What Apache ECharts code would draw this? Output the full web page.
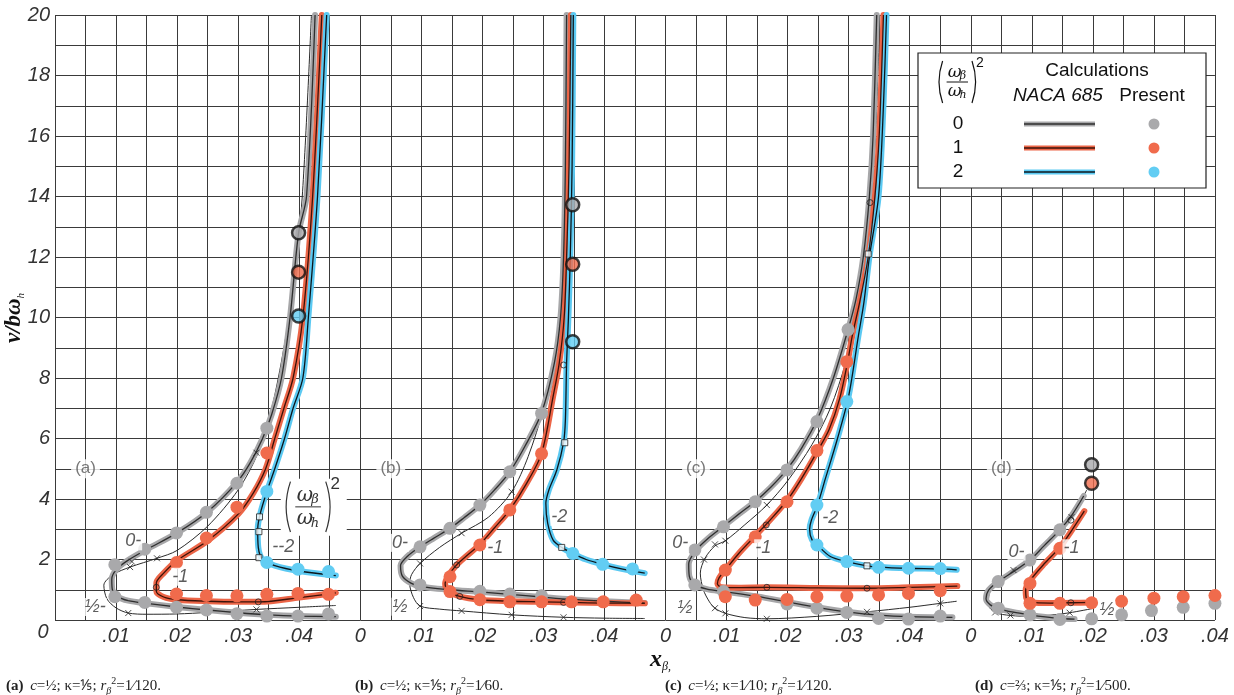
<!DOCTYPE html>
<html>
<head>
<meta charset="utf-8">
<script src="https://cdn.jsdelivr.net/npm/echarts@6.0.0/dist/echarts.min.js"></script>
<style>
html,body{margin:0;padding:0;background:#fff;}
#chart{width:1234px;height:695px;}
</style>
</head>
<body>
<div id="chart"></div>
<script>
// ================= DATA =================
const panelNames = ['(a)', '(b)', '(c)', '(d)'];
const panelXMax = [0.05, 0.05, 0.05, 0.04];
const xTickLabels = ['0', '.01', '.02', '.03', '.04'];
const yTickLabels = ['2', '4', '6', '8', '10', '12', '14', '16', '18', '20'];
const legendRatios = ['0', '1', '2'];
const captionParams = [
  ['(a)', '½', '⅕', '1⁄120'],
  ['(b)', '½', '⅕', '1⁄60'],
  ['(c)', '½', '1⁄10', '1⁄120'],
  ['(d)', '⅔', '⅕', '1⁄500']
];

// ---- panel (a) ----
const a_naca0 = [[0.0426,20],[0.0412,14],[0.0399,12.8],[0.0385,10],[0.0371,8],[0.0355,6.8],[0.0340,6.0],[0.0320,5.2],[0.0298,4.55],[0.0250,3.58],[0.0200,2.88],[0.0150,2.33],[0.0120,1.98],[0.0101,1.68],[0.0093,1.35],[0.0094,1.0],[0.0102,0.78],[0.0120,0.64],[0.0150,0.55],[0.0200,0.43],[0.0250,0.33],[0.0300,0.24],[0.0350,0.17],[0.0400,0.13],[0.0460,0.11]];
const a_naca1 = [[0.0437,20],[0.0422,14],[0.0406,10],[0.0390,8],[0.0375,7],[0.0360,6.0],[0.0345,5.0],[0.0325,4.2],[0.0300,3.5],[0.0250,2.62],[0.0200,1.97],[0.0178,1.55],[0.0166,1.22],[0.0166,0.95],[0.0178,0.76],[0.0200,0.67],[0.0250,0.62],[0.0300,0.6],[0.0335,0.6],[0.0400,0.74],[0.0460,0.9]];
const a_naca2 = [[0.0445,20],[0.0430,14],[0.0415,10],[0.0406,8],[0.0390,7],[0.0376,6],[0.0360,5],[0.0347,4.25],[0.0336,3.5],[0.0332,3.0],[0.0333,2.4],[0.0340,2.0],[0.0360,1.8],[0.0400,1.62],[0.0460,1.47]];
const a_half = [[0.0420,20],[0.0405,14],[0.0390,11],[0.0375,9],[0.0355,7],[0.0332,5.5],[0.0300,4.3],[0.0250,3.1],[0.0200,2.3],[0.0167,2.04],[0.0123,1.75],[0.0095,1.5],[0.0080,1.15],[0.0085,0.7],[0.0100,0.4],[0.0120,0.23],[0.0150,0.19],[0.0200,0.2],[0.0250,0.25],[0.0330,0.35],[0.0400,0.42],[0.0460,0.48]];
const a_pres0 = [[0.0347,6.34],[0.0298,4.52],[0.0248,3.56],[0.0199,2.88],[0.0147,2.34],[0.0098,1.83],[0.0098,0.77],[0.0147,0.58],[0.0199,0.42],[0.0248,0.33],[0.0298,0.21],[0.0347,0.13],[0.0398,0.13],[0.0448,0.2]];
const a_pres1 = [[0.0347,5.52],[0.0298,3.73],[0.0248,2.71],[0.0199,1.9],[0.0199,0.86],[0.0248,0.81],[0.0298,0.8],[0.0347,0.85],[0.0398,0.88],[0.0448,0.85]];
const a_pres2 = [[0.0347,4.25],[0.0347,1.9],[0.0398,1.68],[0.0448,1.6]];
const a_flutter = [[0.0399,12.8],[0.0399,11.5],[0.0399,10.05]];
const a_cross = [[0.0330,5.53],[0.0167,2.04],[0.0123,1.75],[0.0126,1.93],[0.0120,0.23],[0.0330,0.35]];
const a_circ = [[0.0166,1.08],[0.0333,0.6]];
const a_sq = [[0.0335,3.41],[0.0334,2.92],[0.0334,2.06]];
const a_tags = [['0-',0.0128,2.6],['-1',0.0205,1.43],['½-',0.0066,0.43],['--2',0.0374,2.42]];

// ---- panel (b) ----
const b_naca0 = [[0.0338,20],[0.0336,15],[0.0333,12],[0.0328,10],[0.0318,8.5],[0.0297,6.85],[0.0270,5.75],[0.0245,4.9],[0.0220,4.3],[0.0196,3.8],[0.0170,3.38],[0.0147,3.03],[0.0120,2.7],[0.0098,2.42],[0.0077,2.1],[0.0066,1.8],[0.0069,1.45],[0.0083,1.22],[0.0100,1.1],[0.0147,1.0],[0.0196,0.93],[0.0245,0.85],[0.0297,0.76],[0.0346,0.68],[0.0400,0.62],[0.0466,0.56]];
const b_naca1 = [[0.0345,20],[0.0342,15],[0.0338,12],[0.0334,10],[0.0326,8.5],[0.0316,7.4],[0.0297,5.5],[0.0272,4.5],[0.0245,3.64],[0.0220,3.05],[0.0196,2.5],[0.0172,2.08],[0.0156,1.78],[0.0144,1.45],[0.0139,1.2],[0.0145,0.95],[0.0163,0.78],[0.0196,0.67],[0.0245,0.62],[0.0297,0.6],[0.0346,0.58],[0.0400,0.56],[0.0466,0.55]];
const b_naca2 = [[0.0349,20],[0.0347,15],[0.0344,12],[0.0341,10],[0.0338,8.5],[0.0336,6.6],[0.0333,5.86],[0.0322,4.96],[0.0309,4.3],[0.0304,3.86],[0.0307,3.2],[0.0316,2.64],[0.0330,2.4],[0.0348,2.2],[0.0370,2.0],[0.0397,1.84],[0.0430,1.68],[0.0466,1.55]];
const b_half = [[0.0336,20],[0.0334,14],[0.0330,11],[0.0320,9],[0.0300,7.0],[0.0275,5.4],[0.0248,4.24],[0.0210,3.4],[0.0166,2.87],[0.0130,2.4],[0.0098,1.87],[0.0084,1.5],[0.0081,1.2],[0.0087,0.75],[0.0098,0.46],[0.0130,0.36],[0.0166,0.3],[0.0248,0.17],[0.0333,0.09],[0.0400,0.06],[0.0466,0.05]];
const b_pres0 = [[0.0297,6.83],[0.0245,4.9],[0.0196,3.8],[0.0147,3.03],[0.0098,2.42],[0.0098,1.16],[0.0196,0.95],[0.0245,0.86],[0.0297,0.8]];
const b_pres1 = [[0.0297,5.5],[0.0245,3.64],[0.0196,2.48],[0.0147,1.43],[0.0147,0.94],[0.0196,0.67],[0.0245,0.6],[0.0297,0.6],[0.0346,0.6],[0.0398,0.6],[0.0452,0.66]];
const b_pres2 = [[0.0348,2.2],[0.0397,1.84],[0.0446,1.69]];
const b_flutter = [[0.0348,13.73],[0.0348,11.76],[0.0348,9.2]];
const b_cross = [[0.0248,4.24],[0.0166,2.87],[0.0098,1.87],[0.0098,0.46],[0.0166,0.3],[0.0248,0.17],[0.0333,0.09]];
const b_circ = [[0.0333,8.43],[0.0158,1.82],[0.0163,0.78],[0.0333,0.58]];
const b_sq = [[0.0335,5.86],[0.0330,2.4]];
const b_tags = [['0-',0.0065,2.55],['-1',0.0221,2.37],['½',0.0065,0.44],['-2',0.0326,3.41]];

// ---- panel (c) ----
const c_naca0 = [[0.0346,20],[0.0340,16],[0.0334,14],[0.0324,12],[0.0312,10.6],[0.0299,9.6],[0.0275,8.0],[0.0248,6.6],[0.0222,5.65],[0.0199,4.98],[0.0172,4.38],[0.0147,3.92],[0.0120,3.5],[0.0095,3.1],[0.0070,2.7],[0.0050,2.3],[0.0038,1.85],[0.0039,1.45],[0.0048,1.17],[0.0068,1.02],[0.0095,0.94],[0.0150,0.78],[0.0199,0.6],[0.0248,0.42],[0.0297,0.27],[0.0350,0.16],[0.0400,0.11],[0.0470,0.09]];
const c_naca1 = [[0.0357,20],[0.0350,16],[0.0343,14],[0.0332,12],[0.0318,10.5],[0.0306,9.4],[0.0298,8.5],[0.0285,7.3],[0.0268,6.3],[0.0248,5.55],[0.0222,4.65],[0.0199,3.95],[0.0172,3.32],[0.0147,2.78],[0.0120,2.2],[0.0099,1.68],[0.0088,1.4],[0.0085,1.2],[0.0092,1.08],[0.0120,1.07],[0.0166,1.08],[0.0250,1.06],[0.0330,1.05],[0.0400,1.08],[0.0478,1.12]];
const c_naca2 = [[0.0362,20],[0.0357,17],[0.0349,14],[0.0334,12],[0.0325,10.5],[0.0316,9.4],[0.0300,7.4],[0.0281,5.95],[0.0262,4.68],[0.0249,3.8],[0.0239,3.3],[0.0236,3.0],[0.0240,2.65],[0.0250,2.45],[0.0270,2.1],[0.0297,1.93],[0.0330,1.79],[0.0349,1.75],[0.0398,1.71],[0.0450,1.69],[0.0477,1.66]];
const c_half = [[0.0351,20],[0.0344,16],[0.0337,14],[0.0327,12],[0.0312,10],[0.0295,8.5],[0.0270,7],[0.0240,5.8],[0.0200,4.6],[0.0166,3.8],[0.0130,3.15],[0.0098,2.62],[0.0081,2.45],[0.0065,2.05],[0.0057,1.55],[0.0062,1.0],[0.0072,0.6],[0.0081,0.39],[0.0098,0.22],[0.0130,0.08],[0.0166,0.04],[0.0248,0.12],[0.0330,0.27],[0.0400,0.42],[0.0450,0.55],[0.0477,0.62]];
const c_pres0 = [[0.0299,9.6],[0.0248,6.56],[0.0199,4.96],[0.0147,3.91],[0.0095,3.08],[0.0048,2.31],[0.0048,1.16],[0.0095,0.94],[0.0199,0.53],[0.0248,0.39],[0.0297,0.25],[0.0349,0.05],[0.0398,0.03],[0.0450,0.13]];
const c_pres1 = [[0.0297,8.54],[0.0248,5.6],[0.0199,3.91],[0.0147,2.75],[0.0098,1.65],[0.0098,0.77],[0.0147,0.66],[0.0199,0.68],[0.0248,0.77],[0.0297,0.79],[0.0349,0.83],[0.0398,0.88],[0.0450,0.97]];
const c_pres2 = [[0.0297,7.22],[0.0248,3.8],[0.0248,2.48],[0.0297,1.93],[0.0349,1.74],[0.0398,1.71],[0.0450,1.7]];
const c_flutter = [];
const c_cross = [[0.0166,3.8],[0.0098,2.62],[0.0081,2.5],[0.0063,2.0],[0.0081,0.39],[0.0098,0.22],[0.0166,0.04],[0.0330,0.27],[0.0450,0.55]];
const c_circ = [[0.0335,13.8],[0.0165,3.14],[0.0166,1.08],[0.0330,1.05]];
const c_sq = [[0.0332,12.1],[0.0330,1.79]];
const c_tags = [['0-',0.0024,2.54],['-1',0.0160,2.37],['½',0.0032,0.39],['-2',0.0270,3.36]];

// ---- panel (d) ----
const d_naca0 = [[0.0185,4.1],[0.0165,3.45],[0.0146,2.98],[0.0120,2.45],[0.0097,1.98],[0.0070,1.6],[0.0045,1.27],[0.0029,0.98],[0.0025,0.7],[0.0032,0.5],[0.0045,0.38],[0.0070,0.26],[0.0097,0.17],[0.0122,0.1],[0.0146,0.05],[0.0170,0.03]];
const d_naca1 = [[0.0186,3.6],[0.0165,2.95],[0.0146,2.4],[0.0120,1.85],[0.0097,1.3],[0.0090,1.0],[0.0091,0.72],[0.0100,0.58],[0.0130,0.56],[0.0164,0.57],[0.0200,0.58]];
const d_naca2 = [];
const d_half = [[0.0190,4.3],[0.0165,3.4],[0.0140,2.75],[0.0100,2.05],[0.0075,1.7],[0.0045,1.25],[0.0030,0.85],[0.0029,0.5],[0.0040,0.25],[0.0065,0.15],[0.0100,0.12],[0.0130,0.16],[0.0162,0.24],[0.0200,0.38]];
const d_pres0 = [[0.0146,2.98],[0.0097,1.98],[0.0045,1.27],[0.0045,0.39],[0.0097,0.17],[0.0146,0.02],[0.0198,0.04],[0.0247,0.17],[0.0296,0.31],[0.0348,0.42],[0.0400,0.55]];
const d_pres1 = [[0.0146,2.37],[0.0097,1.21],[0.0097,0.55],[0.0146,0.55],[0.0198,0.57],[0.0247,0.62],[0.0300,0.72],[0.0348,0.77],[0.0400,0.81]];
const d_pres2 = [];
const d_flutter = [[0.0198,5.13],[0.0198,4.52]];
const d_cross = [[0.0165,3.4],[0.0100,2.05],[0.0070,1.65],[0.0045,1.25],[0.0040,0.25],[0.0065,0.15],[0.0100,0.12],[0.0162,0.24]];
const d_circ = [[0.0164,3.3],[0.0164,0.57]];
const d_sq = [];
const d_tags = [['0-',0.0075,2.26],['-1',0.0165,2.37],['½',0.0223,0.33]];

// annotation anchors (data coords)
const panelTagAnchor = [0.005, 5];
const fracAnchorA = [0.0414, 3.74];

// ================= STYLE =================
const FILL = ['#a7a7a9', '#ec6547', '#5bc9f2'];
const CORE = ['#2e2e2e', '#3a1209', '#0c161c'];
const DOT = ['#a9a9ab', '#f06b4c', '#62cdf3'];
const GRIDC = '#3a3a3a';
const TICKFONT = 'Liberation Sans';

const panels = [
  {naca:[a_naca0,a_naca1,a_naca2], half:a_half, pres:[a_pres0,a_pres1,a_pres2], flutter:a_flutter, cross:a_cross, circ:a_circ, sq:a_sq, tags:a_tags},
  {naca:[b_naca0,b_naca1,b_naca2], half:b_half, pres:[b_pres0,b_pres1,b_pres2], flutter:b_flutter, cross:b_cross, circ:b_circ, sq:b_sq, tags:b_tags},
  {naca:[c_naca0,c_naca1,c_naca2], half:c_half, pres:[c_pres0,c_pres1,c_pres2], flutter:c_flutter, cross:c_cross, circ:c_circ, sq:c_sq, tags:c_tags},
  {naca:[d_naca0,d_naca1,d_naca2], half:d_half, pres:[d_pres0,d_pres1,d_pres2], flutter:d_flutter, cross:d_cross, circ:d_circ, sq:d_sq, tags:d_tags}
];

const X0 = 55, PW = 305.25, TOP = 15, H = 605;

const grid = [], xAxis = [], yAxis = [], series = [];
panels.forEach((p, i) => {
  grid.push({left: X0 + i * PW, top: TOP, width: PW * panelXMax[i] / 0.05, height: H, outerBoundsMode: 'none', containLabel: false});
  xAxis.push({
    gridIndex: i, type: 'value', min: 0, max: panelXMax[i], interval: 0.005,
    axisLine: {show: false}, axisTick: {show: false},
    splitLine: {show: true, lineStyle: {color: GRIDC, width: 1}},
    axisLabel: {
      show: true, margin: 6, fontSize: 20, fontStyle: 'italic', fontFamily: TICKFONT, color: '#333',
      formatter: v => {
        const k = Math.round(v * 200);
        if (k % 2) return '';
        const idx = k / 2;
        if (i === 0 && idx === 0) return '';
        return xTickLabels[idx] || '';
      }
    }
  });
  yAxis.push({
    gridIndex: i, type: 'value', min: 0, max: 20, interval: 1,
    axisLine: {show: false}, axisTick: {show: false},
    splitLine: {show: true, lineStyle: {color: GRIDC, width: 1}},
    axisLabel: {
      show: i === 0, margin: 5, fontSize: 20, fontStyle: 'italic', fontFamily: TICKFONT, color: '#333',
      formatter: v => (v % 2 === 0 && v > 0) ? yTickLabels[v / 2 - 1] : ''
    }
  });
  const base = {xAxisIndex: i, yAxisIndex: i, animation: false, silent: true};
  series.push(Object.assign({type: 'line', data: p.half, smooth: 0.3, symbol: 'none', lineStyle: {color: '#2b2b2b', width: 1}, z: 2}, base));
  p.naca.forEach((d, k) => {
    if (!d.length) return;
    series.push(Object.assign({type: 'line', data: d, smooth: 0.3, symbol: 'none', lineStyle: {color: FILL[k], width: 6, cap: 'round', join: 'round'}, z: 3}, base));
    series.push(Object.assign({type: 'line', data: d, smooth: 0.3, symbol: 'none', lineStyle: {color: CORE[k], width: 1.3}, z: 4}, base));
  });
  series.push(Object.assign({type: 'scatter', data: p.cross, symbol: 'path://M0,0L10,10M10,0L0,10', symbolSize: 6,
    itemStyle: {color: 'transparent', borderColor: '#222', borderWidth: 1}, z: 5}, base));
  series.push(Object.assign({type: 'scatter', data: p.circ, symbol: 'circle', symbolSize: 6,
    itemStyle: {color: 'transparent', borderColor: '#222', borderWidth: 1}, z: 5}, base));
  series.push(Object.assign({type: 'scatter', data: p.sq, symbol: 'rect', symbolSize: 6,
    itemStyle: {color: '#fff', borderColor: '#222', borderWidth: 1}, z: 5}, base));
  p.pres.forEach((d, k) => {
    if (!d.length) return;
    series.push(Object.assign({type: 'scatter', data: d, symbol: 'circle', symbolSize: 13, itemStyle: {color: DOT[k], opacity: 1}, z: 6}, base));
  });
  p.flutter.forEach((pt, k) => {
    series.push(Object.assign({type: 'scatter', data: [pt], symbol: 'circle', symbolSize: 13,
      itemStyle: {color: DOT[k], borderColor: '#111', borderWidth: 2.5}, z: 7}, base));
  });
  series.push(Object.assign({type: 'scatter', symbolSize: 1, itemStyle: {color: 'transparent'}, z: 8,
    data: p.tags.map(t => ({name: t[0], value: [t[1], t[2]]})),
    label: {show: true, position: 'inside', formatter: '{b}', fontSize: 18, fontStyle: 'italic', fontFamily: TICKFONT, color: '#333',
      backgroundColor: '#fff', padding: [0, 1]}}, base));
  series.push(Object.assign({type: 'scatter', symbolSize: 1, itemStyle: {color: 'transparent'}, z: 8,
    data: [{name: panelNames[i], value: panelTagAnchor}],
    label: {show: true, position: 'inside', formatter: '{b}', fontSize: 17, fontFamily: TICKFONT, color: '#555',
      backgroundColor: '#fff', padding: [1, 4]}}, base));
});

const chart = echarts.init(document.getElementById('chart'), null, {renderer: 'canvas'});
chart.setOption({animation: false, backgroundColor: '#fff', grid, xAxis, yAxis, series});

// ================= GRAPHICS (text, legend) =================
function T(x, y, text, font, fill, align, extra) {
  return Object.assign({type: 'text', x, y, z: 100, silent: true,
    style: {text, font, fill: fill || '#222', align: align || 'center', verticalAlign: 'middle',
      textAlign: align || 'center', textVerticalAlign: 'middle'}}, extra || {});
}
function fraction(cx, cy, s, color, italic) {
  const f = (italic ? 'italic ' : '') + Math.round(s * 0.85) + 'px "DejaVu Serif"';
  const fs = (italic ? 'italic ' : '') + Math.round(s * 0.55) + 'px "DejaVu Serif"';
  const els = [];
  els.push(T(cx - 0.12 * s, cy - 0.48 * s, 'ω', f, color));
  els.push(T(cx + 0.3 * s, cy - 0.3 * s, 'β', fs, color));
  els.push({type: 'line', z: 100, silent: true, shape: {x1: cx - 0.52 * s, y1: cy, x2: cx + 0.55 * s, y2: cy}, style: {stroke: color, lineWidth: 1}});
  els.push(T(cx - 0.12 * s, cy + 0.5 * s, 'ω', f, color));
  els.push(T(cx + 0.3 * s, cy + 0.68 * s, 'h', fs, color));
  els.push({type: 'bezierCurve', z: 100, silent: true, shape: {x1: cx - 0.72 * s, y1: cy - 1.05 * s, x2: cx - 0.72 * s, y2: cy + 1.05 * s, cpx1: cx - 1.08 * s, cpy1: cy}, style: {stroke: color, lineWidth: 1.2, fill: null}});
  els.push({type: 'bezierCurve', z: 100, silent: true, shape: {x1: cx + 0.75 * s, y1: cy - 1.05 * s, x2: cx + 0.75 * s, y2: cy + 1.05 * s, cpx1: cx + 1.11 * s, cpy1: cy}, style: {stroke: color, lineWidth: 1.2, fill: null}});
  els.push(T(cx + 1.15 * s, cy - 0.95 * s, '2', Math.round(s * 0.7) + 'px "Liberation Sans"', color));
  return els;
}

const g = [];
g.push(T(43, 632, '0', 'italic 20px "Liberation Sans"', '#333'));
// y axis name (rotated)
g.push({type: 'text', x: 14, y: 318, rotation: Math.PI / 2, z: 100, silent: true,
  style: {text: '{m|v/bω}{s|h}', align: 'center', verticalAlign: 'middle', textAlign: 'center', textVerticalAlign: 'middle',
    rich: {m: {fontFamily: 'Liberation Serif', fontStyle: 'italic', fontWeight: 'bold', fontSize: 23, fill: '#111', lineHeight: 26},
           s: {fontFamily: 'Liberation Serif', fontStyle: 'italic', fontSize: 11, fill: '#111', verticalAlign: 'bottom', lineHeight: 26}}}});
g.push({type: 'text', x: 650, y: 660, z: 100, silent: true,
  style: {text: '{m|x}{s|β,}', align: 'left', verticalAlign: 'middle', textAlign: 'left', textVerticalAlign: 'middle',
    rich: {m: {fontFamily: 'Liberation Serif', fontStyle: 'italic', fontWeight: 'bold', fontSize: 24, fill: '#111', lineHeight: 26},
           s: {fontFamily: 'Liberation Serif', fontStyle: 'italic', fontSize: 12, fill: '#111', verticalAlign: 'bottom', lineHeight: 26}}}});
const capX = [6, 355, 665, 975];
captionParams.forEach((c, i) => {
  g.push({type: 'text', x: capX[i], y: 686, z: 100, silent: true,
    style: {text: `{p|${c[0]}}  {i|c}{n|=${c[1]}; κ=${c[2]}; }{i|r}{sb|β}{sp|2}{n|=${c[3]}.}`,
      align: 'left', verticalAlign: 'middle', textAlign: 'left', textVerticalAlign: 'middle',
      rich: {p: {fontFamily: 'Liberation Serif', fontWeight: 'bold', fontSize: 15, fill: '#222', lineHeight: 20},
             i: {fontFamily: 'Liberation Serif', fontStyle: 'italic', fontSize: 15, fill: '#222', lineHeight: 20},
             n: {fontFamily: 'Liberation Serif', fontSize: 15, fill: '#222', lineHeight: 20},
             sb: {fontFamily: 'Liberation Serif', fontStyle: 'italic', fontSize: 10, fill: '#222', verticalAlign: 'bottom', lineHeight: 20},
             sp: {fontFamily: 'Liberation Serif', fontSize: 10, fill: '#222', verticalAlign: 'top', lineHeight: 20}}}});
});
const fa = chart.convertToPixel({gridIndex: 0}, fracAnchorA);
g.push({type: 'rect', z: 99, silent: true, shape: {x: fa[0] - 27, y: fa[1] - 28, width: 66, height: 57}, style: {fill: '#fff'}});
fraction(fa[0], fa[1], 24, '#333', true).forEach(e => g.push(e));

g.push({type: 'rect', z: 99, silent: true, shape: {x: 918, y: 53, width: 288, height: 135}, style: {fill: '#fff', stroke: '#222', lineWidth: 1.2}});
fraction(957, 82, 20, '#111', true).forEach(e => g.push(e));
g.push(T(1097, 71, 'Calculations', '19px "Liberation Sans"', '#111'));
g.push(T(1058, 96, 'NACA 685', 'italic 19px "Liberation Sans"', '#111'));
g.push(T(1152, 96, 'Present', '19px "Liberation Sans"', '#111'));
legendRatios.forEach((r, k) => {
  const y = 124 + k * 24;
  g.push(T(958, y, r, '19px "Liberation Sans"', '#111'));
  g.push({type: 'line', z: 100, silent: true, shape: {x1: 1024, y1: y, x2: 1095, y2: y}, style: {stroke: FILL[k], lineWidth: 5}});
  g.push({type: 'line', z: 101, silent: true, shape: {x1: 1024, y1: y, x2: 1095, y2: y}, style: {stroke: CORE[k], lineWidth: 1.6}});
  g.push({type: 'circle', z: 100, silent: true, shape: {cx: 1154, cy: y, r: 5.5}, style: {fill: DOT[k]}});
});

chart.setOption({graphic: {elements: g}});
</script>
</body>
</html>
